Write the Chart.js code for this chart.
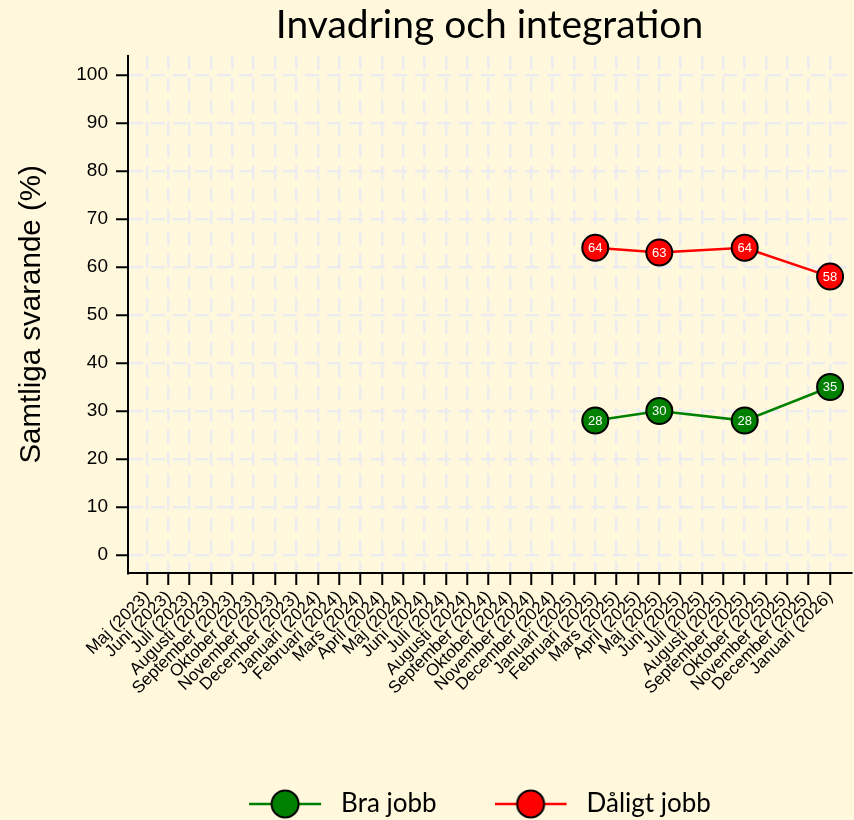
<!DOCTYPE html>
<html>
<head>
<meta charset="utf-8">
<script src="https://cdn.jsdelivr.net/npm/chart.js@4"></script>
<style>
html,body{margin:0;padding:0;background:#FFF8DC;}
#wrap{width:854px;height:820px;}
</style>
</head>
<body>
<div id="wrap"><canvas id="c" width="854" height="820"></canvas></div>
<script>
// ---- Data ----
const categories = ['Maj (2023)','Juni (2023)','Juli (2023)','Augusti (2023)','September (2023)','Oktober (2023)','November (2023)','December (2023)',
  'Januari (2024)','Februari (2024)','Mars (2024)','April (2024)','Maj (2024)','Juni (2024)','Juli (2024)','Augusti (2024)','September (2024)','Oktober (2024)','November (2024)','December (2024)',
  'Januari (2025)','Februari (2025)','Mars (2025)','April (2025)','Maj (2025)','Juni (2025)','Juli (2025)','Augusti (2025)','September (2025)','Oktober (2025)','November (2025)','December (2025)',
  'Januari (2026)'];
const surveyMonths = ['Februari (2025)','Maj (2025)','September (2025)','Januari (2026)'];
const braJobb = [28, 30, 28, 35];
const daligtJobb = [64, 63, 64, 58];
const yTickValues = [0, 10, 20, 30, 40, 50, 60, 70, 80, 90, 100];
const seriesNames = ['Bra jobb', 'Dåligt jobb'];
const seriesColors = ['#008000', '#FF0000'];

function toPoints(values){
  return surveyMonths.map((m, i) => ({x: categories.indexOf(m), y: values[i]}));
}

function legendIcon(color){
  const c = document.createElement('canvas');
  c.width = 98; c.height = 32;
  const g = c.getContext('2d');
  g.strokeStyle = color; g.lineWidth = 2.5;
  g.beginPath(); g.moveTo(0, 16); g.lineTo(72, 16); g.stroke();
  g.beginPath(); g.arc(36, 16, 13.5, 0, Math.PI*2);
  g.fillStyle = color; g.fill();
  g.lineWidth = 2; g.strokeStyle = '#000'; g.stroke();
  return c;
}

const bgPlugin = {
  id: 'bg',
  beforeDraw(chart){
    const ctx = chart.ctx;
    ctx.save(); ctx.fillStyle = '#FFF8DC'; ctx.fillRect(0, 0, chart.width, chart.height); ctx.restore();
  }
};

const valueLabels = {
  id: 'valueLabels',
  afterDatasetsDraw(chart){
    const ctx = chart.ctx;
    ctx.save();
    ctx.font = '13px "Liberation Sans", Arial, sans-serif';
    ctx.fillStyle = '#FFFFFF';
    ctx.textAlign = 'center';
    ctx.textBaseline = 'middle';
    chart.data.datasets.forEach((ds, di) => {
      chart.getDatasetMeta(di).data.forEach((pt, i) => {
        ctx.fillText(String(ds.data[i].y), pt.x, pt.y + 0.5);
      });
    });
    ctx.restore();
  }
};

const gridStyle = {color: '#EBEBF0', lineWidth: 2.5, tickColor: '#000', tickWidth: 2, tickLength: 12};
const borderStyle = {color: '#000', width: 2, dash: [14, 8]};

function makeDataset(idx, values){
  return {
    label: seriesNames[idx],
    data: toPoints(values),
    borderColor: seriesColors[idx],
    backgroundColor: seriesColors[idx],
    pointBackgroundColor: seriesColors[idx],
    pointBorderColor: '#000',
    pointBorderWidth: 2,
    pointRadius: 13,
    pointHoverRadius: 13,
    borderWidth: 2.5,
    tension: 0,
    fill: false
  };
}

new Chart(document.getElementById('c'), {
  type: 'line',
  data: { datasets: [makeDataset(0, braJobb), makeDataset(1, daligtJobb)] },
  options: {
    responsive: false,
    animation: false,
    events: [],
    layout: { autoPadding: false, padding: { left: 0, right: 3, top: 0, bottom: -7 } },
    scales: {
      x: {
        type: 'linear',
        min: -0.89, max: 32.98,
        afterBuildTicks: s => { s.ticks = categories.map((c, i) => ({value: i})); },
        afterFit: s => { s.height = 141; s.paddingLeft = 0; s.paddingRight = 0; },
        ticks: {
          callback: v => categories[v],
          autoSkip: false, minRotation: 45, maxRotation: 45,
          font: {family: '"Liberation Sans", Arial, sans-serif', size: 17},
          color: '#000', padding: 2
        },
        grid: gridStyle,
        border: borderStyle
      },
      y: {
        min: -3.75, max: 104,
        afterBuildTicks: s => { s.ticks = yTickValues.map(v => ({value: v})); },
        afterFit: s => { s.width = 128; },
        ticks: {
          font: {family: '"Liberation Sans", Arial, sans-serif', size: 19},
          color: '#000', padding: 8
        },
        grid: gridStyle,
        border: borderStyle,
        title: {
          display: true, text: 'Samtliga svarande (%)',
          font: {family: '"Liberation Sans", Arial, sans-serif', size: 29.5},
          color: '#000', padding: {top: 14, bottom: 0}
        }
      }
    },
    plugins: {
      title: {
        display: true, text: 'Invadring och integration', fullSize: false,
        font: {family: 'Lato', size: 39, weight: 'normal'}, color: '#000',
        padding: {top: 2, bottom: 7}
      },
      legend: {
        position: 'bottom', fullSize: false, align: 'center',
        labels: {
          usePointStyle: true, pointStyleWidth: 60, padding: 77,
          font: {family: 'Lato', size: 26}, color: '#000',
          generateLabels: chart => {
            const items = Chart.defaults.plugins.legend.labels.generateLabels(chart);
            items.forEach((it, i) => { it.pointStyle = legendIcon(seriesColors[i]); });
            return items;
          }
        }
      },
      tooltip: { enabled: false }
    }
  },
  plugins: [bgPlugin, valueLabels]
});
</script>
</body>
</html>
